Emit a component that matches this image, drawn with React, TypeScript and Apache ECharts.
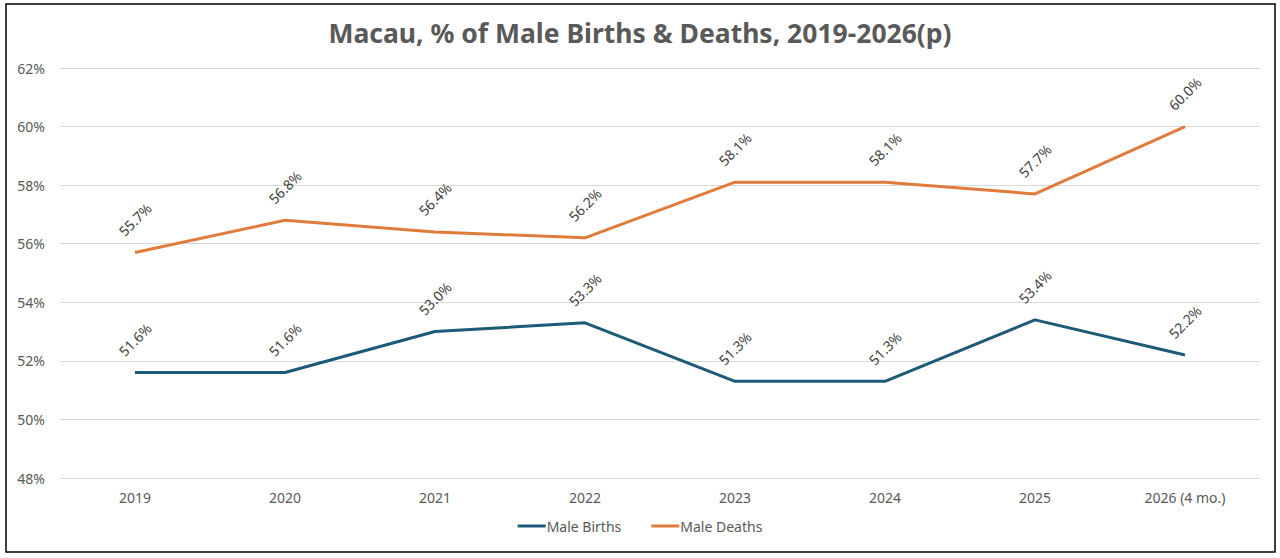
import React, { useEffect, useRef } from "react";
import * as echarts from "echarts";

const categories = ["2019", "2020", "2021", "2022", "2023", "2024", "2025", "2026 (4 mo.)"];
const maleBirths = [51.6, 51.6, 53.0, 53.3, 51.3, 51.3, 53.4, 52.2];
const maleDeaths = [55.7, 56.8, 56.4, 56.2, 58.1, 58.1, 57.7, 60.0];

const FONT = "'Noto Sans', 'Open Sans', sans-serif";

export default function App() {
  const ref = useRef<HTMLDivElement>(null);
  useEffect(() => {
    if (!ref.current) return;
    const chart = echarts.init(ref.current, undefined, { renderer: "svg" });
    const label = {
      show: true,
      position: "top",
      distance: 33,
      rotate: 45,
      align: "center",
      verticalAlign: "middle",
      color: "#404040",
      fontSize: 14,
      fontFamily: FONT,
      formatter: (p: any) => p.value.toFixed(1) + "%",
    };
    chart.setOption({
      animation: false,
      backgroundColor: "#ffffff",
      title: {
        text: "Macau, % of Male Births & Deaths, 2019-2026(p)",
        left: "center",
        top: 14,
        textStyle: { fontFamily: FONT, fontWeight: "bold", fontSize: 26.5, color: "#595959" },
      },
      graphic: [
        {
          type: "rect",
          shape: { x: 6, y: 4, width: 1269, height: 548 },
          style: { fill: "none", stroke: "#000000", lineWidth: 1.5 },
          silent: true,
        },
      ],
      legend: {
        bottom: 20,
        left: "center",
        icon: "rect",
        itemWidth: 28,
        itemHeight: 3,
        itemGap: 30,
        textStyle: { fontFamily: FONT, fontSize: 14, color: "#595959", padding: [0, 0, 0, -4] },
        data: ["Male Births", "Male Deaths"],
      },
      grid: { left: 60, right: 20, top: 68, bottom: 80, containLabel: false },
      xAxis: {
        type: "category",
        data: categories,
        boundaryGap: true,
        axisLine: { show: false },
        axisTick: { show: false },
        axisLabel: { margin: 12, fontFamily: FONT, fontSize: 14, color: "#595959" },
      },
      yAxis: {
        type: "value",
        min: 48,
        max: 62,
        interval: 2,
        axisLine: { show: false },
        axisTick: { show: false },
        axisLabel: { margin: 15, fontFamily: FONT, fontSize: 14, color: "#595959", formatter: "{value}%" },
        splitLine: { lineStyle: { color: "#d9d9d9", width: 1 } },
      },
      series: [
        {
          name: "Male Births",
          type: "line",
          data: maleBirths,
          symbol: "circle",
          symbolSize: 0,
          showSymbol: true,
          lineStyle: { color: "#1d5a78", width: 3 },
          itemStyle: { color: "#1d5a78" },
          label,
        },
        {
          name: "Male Deaths",
          type: "line",
          data: maleDeaths,
          symbol: "circle",
          symbolSize: 0,
          showSymbol: true,
          lineStyle: { color: "#e07b3c", width: 3 },
          itemStyle: { color: "#e07b3c" },
          label,
        },
      ],
    });
    return () => chart.dispose();
  }, []);
  return (
    <div
      ref={ref}
      style={{ position: "absolute", left: 0, top: 0, width: 1280, height: 558 }}
    />
  );
}
